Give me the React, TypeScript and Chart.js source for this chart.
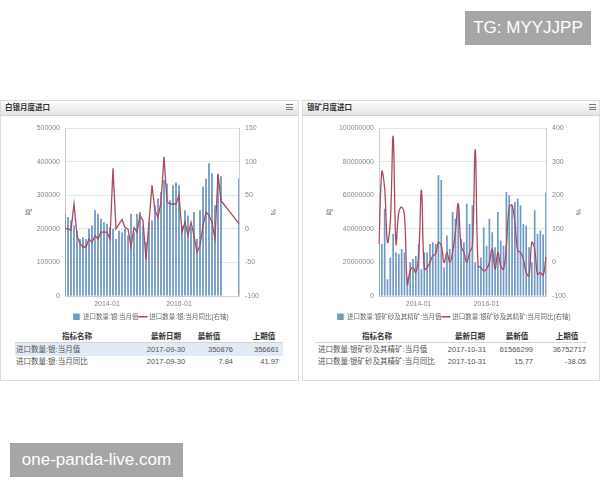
import React, { useEffect, useRef } from 'react';
import { Chart, registerables } from 'chart.js';

Chart.register(...registerables);

const FONT = "'Liberation Sans', 'Noto Sans CJK SC', sans-serif";
const BAR_COLOR = '#7199c6';
const LINE_COLOR = '#a84b5c';

function monthRange(start: string, end: string): string[] {
  const [sy, sm] = start.split('-').map(Number);
  const [ey, em] = end.split('-').map(Number);
  const out: string[] = [];
  let y = sy, m = sm;
  while (y < ey || (y === ey && m <= em)) {
    out.push(`${y}-${String(m).padStart(2, '0')}`);
    m++;
    if (m > 12) { m = 1; y++; }
  }
  return out;
}

// ---------- Left chart: 白银月度进口 ----------
const silverMonths = monthRange('2012-11', '2017-09');
const silverVolume: (number | null)[] = [
  245000, 235000, 225000, 210000, 195000, 170000, 175000, 170000, 200000, 210000,
  255000, 245000, 230000, 220000, 215000, 205000, 200000, 170000, 195000, 190000,
  200000, 180000, 245000, 190000, 245000, 250000, 210000, 160000, 220000, 225000,
  270000, 290000, 310000, 345000, 335000, 285000, 330000, 338000, 330000, 210000,
  255000, 240000, 205000, 250000, 170000, 255000, 325000, 350000, 395000, 365000,
  270000, 362000, 356661, null, null, null, null, null, 350876,
];
const silverYoY: (number | null)[] = [
  0, 0, -2, 37, -10, -22, -27, -27, -15, -20,
  -10, -15, -5, -5, -5, -15, 90, 0, 7, 14,
  2, 0, -27, 2, -5, 20, 12, -45, 10, 65,
  27, 17, 40, 107, 40, 37, 37, 37, 50, -5,
  10, -10, 10, -10, -35, -25, 5, 25, 20, 10,
  -15, 82, 41.97, null, null, null, null, null, 7.84,
];

// ---------- Right chart: 银矿月度进口 ----------
const oreMonths = monthRange('2012-11', '2017-10');
const oreVolume: number[] = [
  31000000, 31000000, 52000000, 10000000, 23000000, 37000000, 26000000, 25000000, 28000000, 26000000,
  11000000, 20000000, 22000000, 24000000, 31000000, 16000000, 26000000, 26000000, 31000000, 32000000,
  31000000, 72000000, 69000000, 17000000, 36000000, 28000000, 50000000, 46000000, 54000000, 34000000,
  32000000, 55000000, 43000000, 54000000, 20000000, 18000000, 23000000, 41000000, 30000000, 46000000,
  38000000, 29000000, 50000000, 33000000, 30000000, 62000000, 60000000, 54000000, 56000000, 58000000,
  54000000, 43000000, 42000000, 29000000, 20000000, 51000000, 37000000, 39000000, 36752717, 61566299,
];
const oreYoY: number[] = [
  55, 270, 220, 60, 120, 375, 55, 150, 165, 140,
  -65, -25, -15, -30, 20, 215, -20, -15, 0, 20,
  25, 60, 50, 0, 30, 0, 30, 90, 175, 50,
  30, 0, 30, 50, 335, -10, -15, -25, -20, 0,
  40, -20, 30, -10, -20, 50, 165, 170, 120, 35,
  30, 10, -30, -40, 60, 40, -35, -30, -38.05, 15.77,
];

const xShownTicks = ['2014-01', '2016-01'];

const silverLegend = ['进口数量:银:当月值', '进口数量:银:当月同比(右轴)'];
const oreLegend = ['进口数量:银矿砂及其精矿:当月值', '进口数量:银矿砂及其精矿:当月同比(右轴)'];

const tableHeaders = ['指标名称', '最新日期', '最新值', '上期值'];
const silverTable = [
  ['进口数量:银:当月值', '2017-09-30', '350876', '356661'],
  ['进口数量:银:当月同比', '2017-09-30', '7.84', '41.97'],
];
const oreTable = [
  ['进口数量:银矿砂及其精矿:当月值', '2017-10-31', '61566299', '36752717'],
  ['进口数量:银矿砂及其精矿:当月同比', '2017-10-31', '15.77', '-38.05'],
];

type ChartProps = {
  labels: string[];
  bars: (number | null)[];
  line: (number | null)[];
  legend: string[];
  yMax: number; yStep: number;
  y1Min: number; y1Max: number; y1Step: number;
  tension: number;
  leftW: number; rightW: number;
  x: number; y: number; w: number; h: number;
};

function ComboChart(p: ChartProps) {
  const ref = useRef<HTMLCanvasElement>(null);
  useEffect(() => {
    if (!ref.current) return;
    const tickFont = { size: 7, family: FONT };
    const chart = new Chart(ref.current, {
      type: 'bar',
      data: {
        labels: p.labels,
        datasets: [
          {
            type: 'bar', label: p.legend[0], data: p.bars as any, yAxisID: 'y',
            backgroundColor: BAR_COLOR, borderWidth: 0, barPercentage: 0.6, categoryPercentage: 1,
            order: 1, pointStyle: 'rect',
          } as any,
          {
            type: 'line', label: p.legend[1], data: p.line as any, yAxisID: 'y1',
            borderColor: LINE_COLOR, backgroundColor: LINE_COLOR, borderWidth: 1.3,
            pointRadius: 0, tension: p.tension, spanGaps: true, order: 0, pointStyle: 'line',
          } as any,
        ],
      },
      options: {
        responsive: false,
        animation: false,
        layout: { padding: { top: 15, bottom: 0, left: 0, right: 0 } },
        plugins: {
          legend: {
            position: 'bottom',
            labels: {
              usePointStyle: true, boxWidth: 7, boxHeight: 7, padding: 1,
              font: { size: 6.5, family: FONT }, color: '#666',
              sort: (a: any, b: any) => a.datasetIndex - b.datasetIndex,
            },
          },
          tooltip: { enabled: false },
        },
        scales: {
          x: {
            offset: false,
            grid: { display: false, drawTicks: false },
            border: { display: true, color: '#d0d0d0' },
            ticks: {
              autoSkip: false, maxRotation: 0, padding: 4, font: tickFont, color: '#888',
              callback: (_v: any, i: number) => (xShownTicks.includes(p.labels[i]) ? p.labels[i] : ''),
            },
          },
          y: {
            position: 'left', min: 0, max: p.yMax,
            ticks: { stepSize: p.yStep, padding: 5, font: tickFont, color: '#888', callback: (v: any) => String(v) },
            grid: { color: '#e6e6e6', drawTicks: false },
            border: { display: true, color: '#d0d0d0' },
            title: { display: true, text: '吨', font: tickFont, color: '#777', padding: 4 },
            afterFit: (s: any) => { s.width = p.leftW; },
          },
          y1: {
            position: 'right', min: p.y1Min, max: p.y1Max,
            ticks: { stepSize: p.y1Step, padding: 6, font: tickFont, color: '#888', callback: (v: any) => String(v) },
            grid: { drawOnChartArea: false, drawTicks: false },
            border: { display: true, color: '#d0d0d0' },
            title: { display: true, text: '%', font: tickFont, color: '#777', padding: 4 },
            afterFit: (s: any) => { s.width = p.rightW; },
          },
        },
      } as any,
    });
    return () => chart.destroy();
  }, []);
  return (
    <canvas
      ref={ref}
      width={p.w}
      height={p.h}
      style={{ position: 'absolute', left: p.x, top: p.y, width: p.w, height: p.h }}
    />
  );
}

function Txt(props: { x: number; y: number; align?: 'left' | 'center' | 'right'; bold?: boolean; size?: number; color?: string; children: React.ReactNode }) {
  const { x, y, align = 'left', bold, size = 7.5, color = '#555' } = props;
  const style: React.CSSProperties = {
    position: 'absolute', top: y - size / 2, lineHeight: `${size}px`, fontSize: size,
    fontWeight: bold ? 'bold' : 'normal', color, whiteSpace: 'nowrap',
  };
  if (align === 'left') style.left = x;
  else if (align === 'right') style.right = 600 - x;
  else { style.left = x; style.transform = 'translateX(-50%)'; }
  return <div style={style}>{props.children}</div>;
}

function Hamburger({ x, y }: { x: number; y: number }) {
  return (
    <div style={{ position: 'absolute', left: x, top: y, width: 7 }}>
      {[0, 1, 2].map((i) => (
        <div key={i} style={{ height: 1, background: '#777', marginBottom: 1.5 }} />
      ))}
    </div>
  );
}

function PanelFrame({ x, w, title }: { x: number; w: number; title: string }) {
  return (
    <div style={{ position: 'absolute', left: x, top: 100, width: w, height: 281, border: '1px solid #dcdcdc', background: '#fff', boxSizing: 'border-box' }}>
      <div style={{ height: 14, background: 'linear-gradient(#fbfbfb, #e6e6e6)', borderBottom: '1px solid #d6d6d6', position: 'relative' }}>
        <div style={{ position: 'absolute', left: 4, top: 3, fontSize: 7.5, lineHeight: '8px', fontWeight: 'bold', color: '#333' }}>{title}</div>
      </div>
    </div>
  );
}

type Cols = { label: number; date: number; val: number; prev: number; hdr: number[] };

function DataTable({ rows, cols, lineX, highlight }: { rows: string[][]; cols: Cols; lineX: [number, number]; highlight: boolean }) {
  return (
    <>
      {highlight && (
        <div style={{ position: 'absolute', left: lineX[0], top: 342, width: lineX[1] - lineX[0], height: 14, background: '#e2eaf6' }} />
      )}
      <div style={{ position: 'absolute', left: lineX[0], top: 342, width: lineX[1] - lineX[0], height: 1, background: '#d4d4d4' }} />
      {tableHeaders.map((h, i) => (
        <Txt key={h} x={cols.hdr[i]} y={336.5} align="center" bold color="#333">{h}</Txt>
      ))}
      {rows.map((r, i) => {
        const y = 349.5 + i * 12.5;
        return (
          <React.Fragment key={i}>
            <Txt x={cols.label} y={y}>{r[0]}</Txt>
            <Txt x={cols.date} y={y} align="center">{r[1]}</Txt>
            <Txt x={cols.val} y={y} align="right">{r[2]}</Txt>
            <Txt x={cols.prev} y={y} align="right">{r[3]}</Txt>
          </React.Fragment>
        );
      })}
    </>
  );
}

export default function App() {
  return (
    <div style={{ position: 'fixed', left: 0, top: 0, width: 600, height: 480, background: '#fff', overflow: 'hidden', fontFamily: FONT }}>
      <div style={{ position: 'absolute', left: 465, top: 11, width: 126, height: 34, background: '#a6a6a6', color: '#fff', fontSize: 17, display: 'flex', alignItems: 'center', justifyContent: 'center', fontFamily: "'Liberation Sans', sans-serif" }}>
        TG: MYYJJPP
      </div>

      <PanelFrame x={0} w={299} title="白银月度进口" />
      <PanelFrame x={302} w={298} title="银矿月度进口" />
      <Hamburger x={286} y={104} />
      <Hamburger x={589} y={104} />

      <ComboChart
        labels={silverMonths} bars={silverVolume} line={silverYoY} legend={silverLegend}
        yMax={500000} yStep={100000} y1Min={-100} y1Max={150} y1Step={50} tension={0}
        leftW={44} rightW={42} x={21} y={113} w={260} h={217}
      />
      <ComboChart
        labels={oreMonths} bars={oreVolume} line={oreYoY} legend={oreLegend}
        yMax={100000000} yStep={20000000} y1Min={-100} y1Max={400} y1Step={100} tension={0.4}
        leftW={57} rightW={40} x={322} y={113} w={264} h={217}
      />

      <DataTable rows={silverTable} cols={{ label: 16, date: 166, val: 233, prev: 279, hdr: [77, 166, 209, 264] }} lineX={[15, 283]} highlight />
      <DataTable rows={oreTable} cols={{ label: 318, date: 467, val: 533, prev: 586, hdr: [377, 470, 517, 567] }} lineX={[315, 587]} highlight={false} />

      <div style={{ position: 'absolute', left: 10, top: 443, width: 173, height: 34, background: '#a6a6a6', color: '#fff', fontSize: 17, display: 'flex', alignItems: 'center', justifyContent: 'center', fontFamily: "'Liberation Sans', sans-serif" }}>
        one-panda-live.com
      </div>
    </div>
  );
}
